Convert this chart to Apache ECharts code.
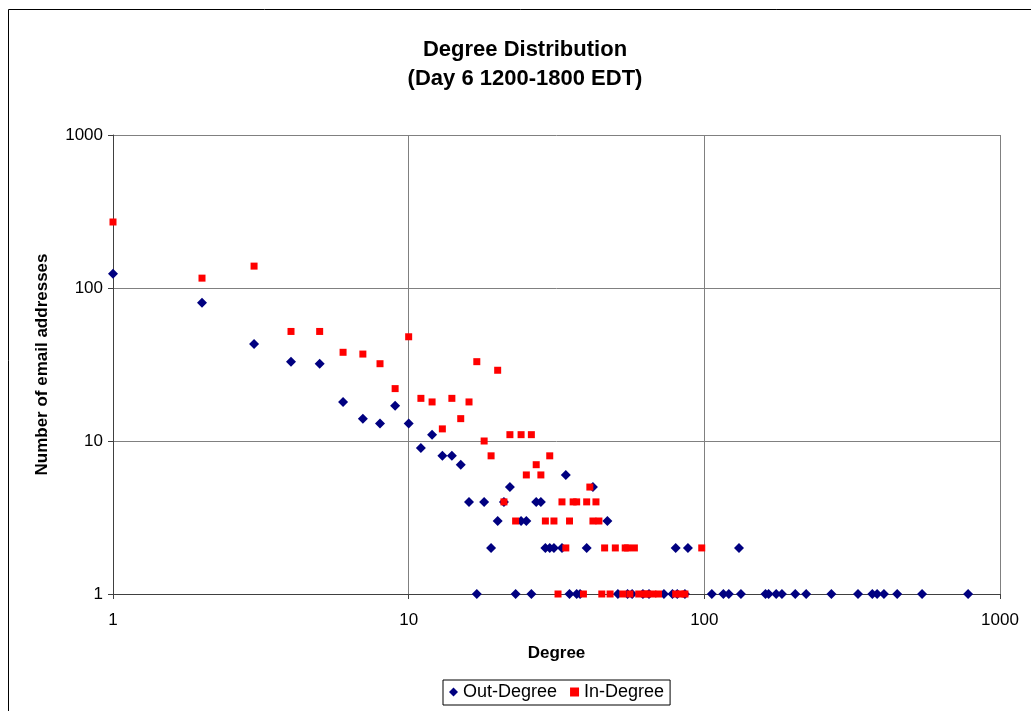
<!DOCTYPE html>
<html>
<head>
<meta charset="utf-8">
<script src="https://cdn.jsdelivr.net/npm/echarts@6/dist/echarts.min.js"></script>
<style>
html,body{margin:0;padding:0;background:#fff;}
#chart{width:1031px;height:711px;}
</style>
</head>
<body>
<div id="chart"></div>
<script>
const titleLines = ["Degree Distribution", "(Day 6 1200-1800 EDT)"];
const xAxisName = "Degree";
const yAxisName = "Number of email addresses";
const seriesNames = ["Out-Degree", "In-Degree"];

const outDegree = [
  [1,124],[2,80],[3,43],[4,33],[5,32],[6,18],[7,14],[8,13],[9,17],[10,13],
  [11,9],[12,11],[13,8],[14,8],[15,7],[16,4],[17,1],[18,4],[19,2],[20,3],
  [21,4],[22,5],[23,1],[24,3],[25,3],[26,1],[27,4],[28,4],[29,2],[30,2],
  [31,2],[33,2],[34,6],[35,1],[37,1],[38,1],[40,2],[42,5],[47,3],[51,1],
  [55,1],[57,1],[62,1],[65,1],[73,1],[78,1],[80,2],[81,1],[86,1],[88,2],
  [106,1],[116,1],[121,1],[131,2],[133,1],[161,1],[165,1],[175,1],[183,1],
  [203,1],[221,1],[269,1],[331,1],[370,1],[384,1],[405,1],[449,1],[545,1],[780,1]
];

const inDegree = [
  [1,270],[2,116],[3,139],[4,52],[5,52],[6,38],[7,37],[8,32],[9,22],[10,48],
  [11,19],[12,18],[13,12],[14,19],[15,14],[16,18],[17,33],[18,10],[19,8],[20,29],
  [21,4],[22,11],[23,3],[24,11],[25,6],[26,11],[27,7],[28,6],[29,3],[30,8],
  [31,3],[32,1],[33,4],[34,2],[35,3],[36,4],[37,4],[39,1],[40,4],[41,5],
  [42,3],[43,4],[44,3],[45,1],[46,2],[48,1],[50,2],[53,1],[54,2],[55,2],
  [56,1],[58,2],[60,1],[63,1],[64,1],[67,1],[70,1],[80,1],[83,1],[86,1],[98,2]
];

const FONT = "'Liberation Sans', Arial, sans-serif";
const chart = echarts.init(document.getElementById('chart'), null, {renderer: 'canvas'});
const plainNum = v => String(Math.round(v));

chart.setOption({
  animation: false,
  backgroundColor: '#fff',
  graphic: [{
    type: 'rect', silent: true, z: -10,
    shape: {x: 8.5, y: 9.5, width: 1100, height: 800},
    style: {fill: 'none', stroke: '#000', lineWidth: 1}
  }],
  title: {
    text: titleLines.join('\n'),
    left: 520, top: 30, textAlign: 'center',
    textStyle: {fontFamily: FONT, fontSize: 22, fontWeight: 'bold', color: '#000', lineHeight: 29}
  },
  legend: {
    left: 443, top: 680,
    data: [
      {name: seriesNames[0], icon: 'diamond'},
      {name: seriesNames[1], icon: 'rect'}
    ],
    itemWidth: 9, itemHeight: 9, itemGap: 13,
    borderColor: '#000', borderWidth: 1, borderRadius: 0,
    padding: [3, 6, 4, 6],
    textStyle: {fontFamily: FONT, fontSize: 18, color: '#000'}
  },
  grid: {left: 113, right: 31, top: 135, bottom: 117, containLabel: false},
  xAxis: {
    type: 'log', logBase: 10, min: 1, max: 1000,
    name: xAxisName, nameLocation: 'middle', nameGap: 51,
    nameTextStyle: {fontFamily: FONT, fontSize: 17, fontWeight: 'bold', color: '#000'},
    axisLine: {show: true, onZero: false, lineStyle: {color: '#404040', width: 1}},
    axisTick: {show: true, inside: false, length: 5, lineStyle: {color: '#404040'}},
    minorTick: {show: false},
    axisLabel: {fontFamily: FONT, fontSize: 17, color: '#000', margin: 18, formatter: plainNum},
    splitLine: {show: true, lineStyle: {color: '#808080', width: 1}}
  },
  yAxis: {
    type: 'log', logBase: 10, min: 1, max: 1000,
    name: yAxisName, nameLocation: 'middle', nameGap: 62, nameRotate: 90,
    nameTextStyle: {fontFamily: FONT, fontSize: 17, fontWeight: 'bold', color: '#000'},
    axisLine: {show: true, onZero: false, lineStyle: {color: '#404040', width: 1}},
    axisTick: {show: true, inside: false, length: 5, lineStyle: {color: '#404040'}},
    minorTick: {show: false},
    axisLabel: {fontFamily: FONT, fontSize: 17, color: '#000', margin: 10, formatter: plainNum},
    splitLine: {show: true, lineStyle: {color: '#808080', width: 1}}
  },
  series: [
    {
      name: seriesNames[0], type: 'scatter', symbol: 'diamond', symbolSize: 10,
      itemStyle: {color: '#000080', opacity: 1}, data: outDegree, z: 2
    },
    {
      name: seriesNames[1], type: 'scatter', symbol: 'rect', symbolSize: 7,
      itemStyle: {color: '#ff0000', opacity: 1}, data: inDegree, z: 3
    }
  ]
});
</script>
</body>
</html>
